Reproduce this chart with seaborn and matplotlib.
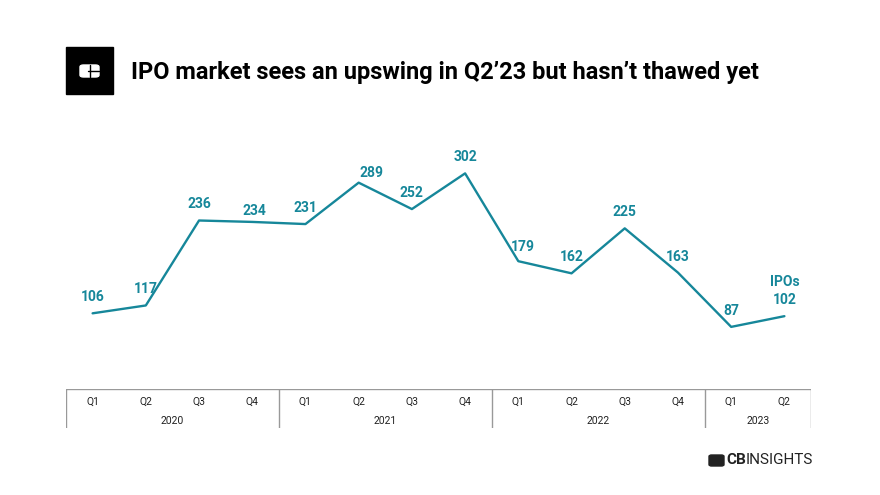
import seaborn as sns
import matplotlib.pyplot as plt
import matplotlib.patches as patches
import pandas as pd

quarters = ['Q1', 'Q2', 'Q3', 'Q4', 'Q1', 'Q2', 'Q3', 'Q4',
            'Q1', 'Q2', 'Q3', 'Q4', 'Q1', 'Q2']
years = ['2020', '2021', '2022', '2023']
year_counts = [4, 4, 4, 2]
ipos = [106, 117, 236, 234, 231, 289, 252, 302, 179, 162, 225, 163, 87, 102]

teal = '#16879a'

sns.set_theme(style='white')
plt.rcParams['font.family'] = ['Roboto', 'DejaVu Sans']

df = pd.DataFrame({'idx': range(len(ipos)), 'ipos': ipos})

fig = plt.figure(figsize=(8.8, 4.95), dpi=100)
ax = fig.add_axes([66 / 880, 1 - 389 / 495, 745 / 880, 269 / 495])
sns.lineplot(data=df, x='idx', y='ipos', ax=ax, color=teal, linewidth=1.7)
ax.set_xlim(-0.5, len(ipos) - 0.5)
ax.set_ylim(0, 269 / 0.714)
ax.axis('off')

# label offsets in pixels (dx, dy) of the label centre; default straight above
offsets = {3: (2, 11), 5: (13, 10), 8: (4, 14)}
for i, v in enumerate(ipos):
    dx, dy = offsets.get(i, (0, 16))
    ax.annotate(str(v), (i, v), xytext=(dx, dy), textcoords='offset pixels',
                ha='center', va='center', color=teal, fontsize=10,
                fontweight='bold')
ax.annotate('IPOs', (len(ipos) - 1, ipos[-1]), xytext=(0, 34),
            textcoords='offset pixels', ha='center', va='center',
            color=teal, fontsize=10, fontweight='bold')

# category axis drawn below the plot
bx = fig.add_axes([66 / 880, 1 - 428 / 495, 745 / 880, 39 / 495])
bx.set_xlim(-0.5, len(ipos) - 0.5)
bx.set_ylim(0, 1)
bx.axis('off')
bx.axhline(1, color='#999999', lw=1.0)
for i, q in enumerate(quarters):
    bx.text(i, 0.67, q, ha='center', va='center', fontsize=7.5, color='#222222')
start = 0
bx.axvline(-0.5, color='#999999', lw=1.0)
for y, n in zip(years, year_counts):
    bx.text(start + (n - 1) / 2, 0.18, y, ha='center', va='center',
            fontsize=7.5, color='#222222')
    start += n
    bx.axvline(start - 0.5, color='#999999', lw=1.0)

# title with logo box
fig.patches.append(patches.Rectangle((66 / 880, 1 - 94 / 495), 47 / 880, 47 / 495,
                                     transform=fig.transFigure, color='black'))
fig.patches.append(patches.FancyBboxPatch((80 / 880, 1 - 77 / 495), 19 / 880, 12 / 495,
                                          boxstyle='round,pad=0,rounding_size=0.004',
                                          transform=fig.transFigure, color='white'))
fig.add_artist(plt.Line2D([90 / 880, 90 / 880], [1 - 77 / 495, 1 - 65 / 495],
                          color='black', lw=1, transform=fig.transFigure))
fig.add_artist(plt.Line2D([88 / 880, 99 / 880], [1 - 71 / 495, 1 - 71 / 495],
                          color='black', lw=1, transform=fig.transFigure))
fig.text(131 / 880, 1 - 72 / 495,
         'IPO market sees an upswing in Q2\u201923 but hasn\u2019t thawed yet',
         ha='left', va='center', fontsize=17, fontweight='bold', color='black')

# footer brand
fig.patches.append(patches.FancyBboxPatch((709 / 880, 1 - 466 / 495), 15 / 880, 11 / 495,
                                          boxstyle='round,pad=0,rounding_size=0.003',
                                          transform=fig.transFigure, color='#222222'))
fig.text(726 / 880, 1 - 460 / 495, 'CB', ha='left', va='center', fontsize=11,
         fontweight='bold', color='#222222')
fig.text(746 / 880, 1 - 460 / 495, 'INSIGHTS', ha='left', va='center', fontsize=11,
         color='#222222')

plt.savefig('out.png', dpi=100)
plt.close()
